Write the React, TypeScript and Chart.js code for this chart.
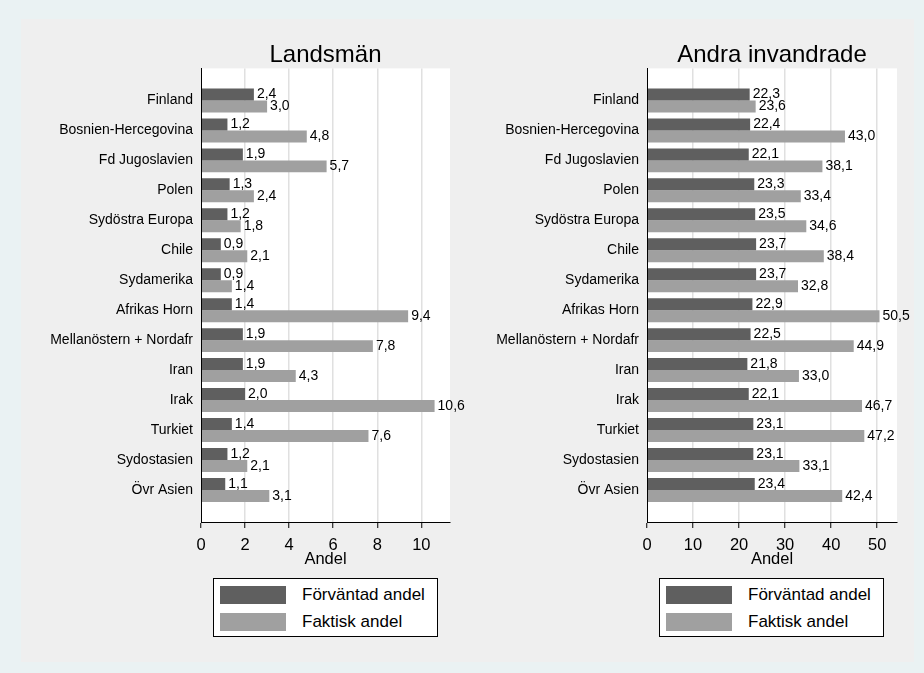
import React, { useEffect, useRef } from 'react';
import { Chart, registerables } from 'chart.js';

Chart.register(...registerables);

const categories = [
  'Finland',
  'Bosnien-Hercegovina',
  'Fd Jugoslavien',
  'Polen',
  'Sydöstra Europa',
  'Chile',
  'Sydamerika',
  'Afrikas Horn',
  'Mellanöstern + Nordafr',
  'Iran',
  'Irak',
  'Turkiet',
  'Sydostasien',
  'Övr Asien',
];

const seriesNames = ['Förväntad andel', 'Faktisk andel'];

const landsmanExpected = [2.4, 1.2, 1.9, 1.3, 1.2, 0.9, 0.9, 1.4, 1.9, 1.9, 2.0, 1.4, 1.2, 1.1];
const landsmanActual = [3.0, 4.8, 5.7, 2.4, 1.8, 2.1, 1.4, 9.4, 7.8, 4.3, 10.6, 7.6, 2.1, 3.1];
const andraExpected = [22.3, 22.4, 22.1, 23.3, 23.5, 23.7, 23.7, 22.9, 22.5, 21.8, 22.1, 23.1, 23.1, 23.4];
const andraActual = [23.6, 43.0, 38.1, 33.4, 34.6, 38.4, 32.8, 50.5, 44.9, 33.0, 46.7, 47.2, 33.1, 42.4];

const landsmanTicks = [0, 2, 4, 6, 8, 10];
const andraTicks = [0, 10, 20, 30, 40, 50];
const landsmanMax = 11.3;
const andraMax = 54.3;

const DARK = '#5f5f5f';
const LIGHT = '#a0a0a0';
const FONT = '"Liberation Sans", Arial, Helvetica, sans-serif';
const CAT_PAD = 1.07;

const fmt = (v: number) => v.toFixed(1).replace('.', ',');

const bgPlugin = {
  id: 'plotBg',
  beforeDraw(chart: any) {
    const { ctx, chartArea } = chart;
    ctx.save();
    ctx.fillStyle = '#ffffff';
    ctx.fillRect(chartArea.left, chartArea.top, chartArea.right - chartArea.left, chartArea.bottom - chartArea.top);
    ctx.restore();
  },
};

const labelPlugin = {
  id: 'barLabels',
  afterDatasetsDraw(chart: any) {
    const { ctx } = chart;
    ctx.save();
    ctx.font = `14px ${FONT}`;
    ctx.fillStyle = '#000';
    ctx.textAlign = 'left';
    ctx.textBaseline = 'middle';
    chart.data.datasets.forEach((ds: any, di: number) => {
      const meta = chart.getDatasetMeta(di);
      meta.data.forEach((el: any, i: number) => {
        ctx.fillText(fmt(ds.data[i].x), el.x + 3, el.y);
      });
    });
    ctx.restore();
  },
};

type PanelProps = {
  left: number;
  width: number;
  title: string;
  expected: number[];
  actual: number[];
  ticks: number[];
  xMax: number;
  yWidth: number;
  padRight: number;
};

function Panel({ left, width, title, expected, actual, ticks, xMax, yWidth, padRight }: PanelProps) {
  const ref = useRef<HTMLCanvasElement | null>(null);
  useEffect(() => {
    if (!ref.current) return;
    const chart = new Chart(ref.current, {
      type: 'bar',
      data: {
        datasets: [
          {
            label: seriesNames[0],
            data: expected.map((v, i) => ({ x: v, y: i })),
            backgroundColor: DARK,
            borderWidth: 0,
            categoryPercentage: 0.8,
            barPercentage: 1,
          },
          {
            label: seriesNames[1],
            data: actual.map((v, i) => ({ x: v, y: i })),
            backgroundColor: LIGHT,
            borderWidth: 0,
            categoryPercentage: 0.8,
            barPercentage: 1,
          },
        ] as any,
      },
      options: {
        indexAxis: 'y',
        responsive: false,
        maintainAspectRatio: false,
        animation: false,
        layout: { padding: { top: 42, bottom: 104, left: 0, right: padRight } },
        plugins: {
          legend: { display: false },
          tooltip: { enabled: false },
          title: {
            display: true,
            text: title,
            fullSize: false,
            color: '#000',
            padding: 0,
            font: { size: 24, family: FONT, weight: 'normal', lineHeight: 1.1 },
          },
        },
        scales: {
          x: {
            type: 'linear',
            position: 'bottom',
            min: 0,
            max: xMax,
            bounds: 'data',
            afterBuildTicks: (s: any) => {
              s.ticks = ticks.map((v) => ({ value: v }));
            },
            afterFit: (s: any) => {
              s.height = 47;
            },
            ticks: {
              color: '#000',
              padding: 8,
              font: { size: 16.5, family: FONT },
              callback: (v: any) => String(v),
            },
            grid: {
              color: (c: any) => (c.tick && c.tick.value === 0 ? 'rgba(0,0,0,0)' : '#e0e0e0'),
              lineWidth: 1.5,
              tickColor: '#000',
              tickWidth: 1,
              tickLength: 6,
            },
            border: { color: '#000', width: 1, z: 1 },
            title: {
              display: true,
              text: 'Andel',
              color: '#000',
              padding: 0,
              font: { size: 16.5, family: FONT },
            },
          },
          y: {
            type: 'linear',
            position: 'left',
            reverse: true,
            offset: false,
            bounds: 'data',
            min: -CAT_PAD,
            max: categories.length - 1 + CAT_PAD,
            afterBuildTicks: (s: any) => {
              s.ticks = categories.map((_, i) => ({ value: i }));
            },
            afterFit: (s: any) => {
              s.width = yWidth;
            },
            ticks: {
              autoSkip: false,
              color: '#000',
              padding: 8,
              font: { size: 14, family: FONT },
              callback: (v: any) => categories[v] ?? '',
            },
            grid: { display: false, drawTicks: false, offset: false },
            border: { color: '#000', width: 1, z: 1 },
          },
        },
      } as any,
      plugins: [bgPlugin, labelPlugin],
    });
    return () => chart.destroy();
  }, []);
  return (
    <canvas
      ref={ref}
      width={width}
      height={673}
      style={{ position: 'absolute', left, top: 0, width, height: 673 }}
    />
  );
}

function Legend({ left }: { left: number }) {
  const row = (color: string, text: string, top: number) => (
    <div style={{ position: 'absolute', left: 0, top, width: 223, height: 18 }}>
      <div style={{ position: 'absolute', left: 6, top: 0, width: 66, height: 18, background: color }} />
      <div
        style={{
          position: 'absolute',
          left: 88,
          top: -2,
          height: 22,
          lineHeight: '22px',
          fontSize: 17,
          fontFamily: FONT,
          color: '#000',
          whiteSpace: 'nowrap',
        }}
      >
        {text}
      </div>
    </div>
  );
  return (
    <div
      style={{
        position: 'absolute',
        left,
        top: 578,
        width: 225,
        height: 59,
        boxSizing: 'border-box',
        border: '1px solid #000',
        background: '#fff',
      }}
    >
      {row(DARK, seriesNames[0], 7)}
      {row(LIGHT, seriesNames[1], 34)}
    </div>
  );
}

export default function App() {
  return (
    <div
      style={{
        position: 'absolute',
        left: 0,
        top: 0,
        width: 924,
        height: 673,
        background: '#eaf2f3',
        overflow: 'hidden',
      }}
    >
      <div style={{ position: 'absolute', left: 21, top: 19, width: 893, height: 643, background: '#efefef' }} />
      <Panel
        left={0}
        width={490}
        title="Landsmän"
        expected={landsmanExpected}
        actual={landsmanActual}
        ticks={landsmanTicks}
        xMax={landsmanMax}
        yWidth={201}
        padRight={40}
      />
      <Panel
        left={462}
        width={462}
        title="Andra invandrade"
        expected={andraExpected}
        actual={andraActual}
        ticks={andraTicks}
        xMax={andraMax}
        yWidth={185}
        padRight={27}
      />
      <Legend left={213} />
      <Legend left={659} />
    </div>
  );
}
